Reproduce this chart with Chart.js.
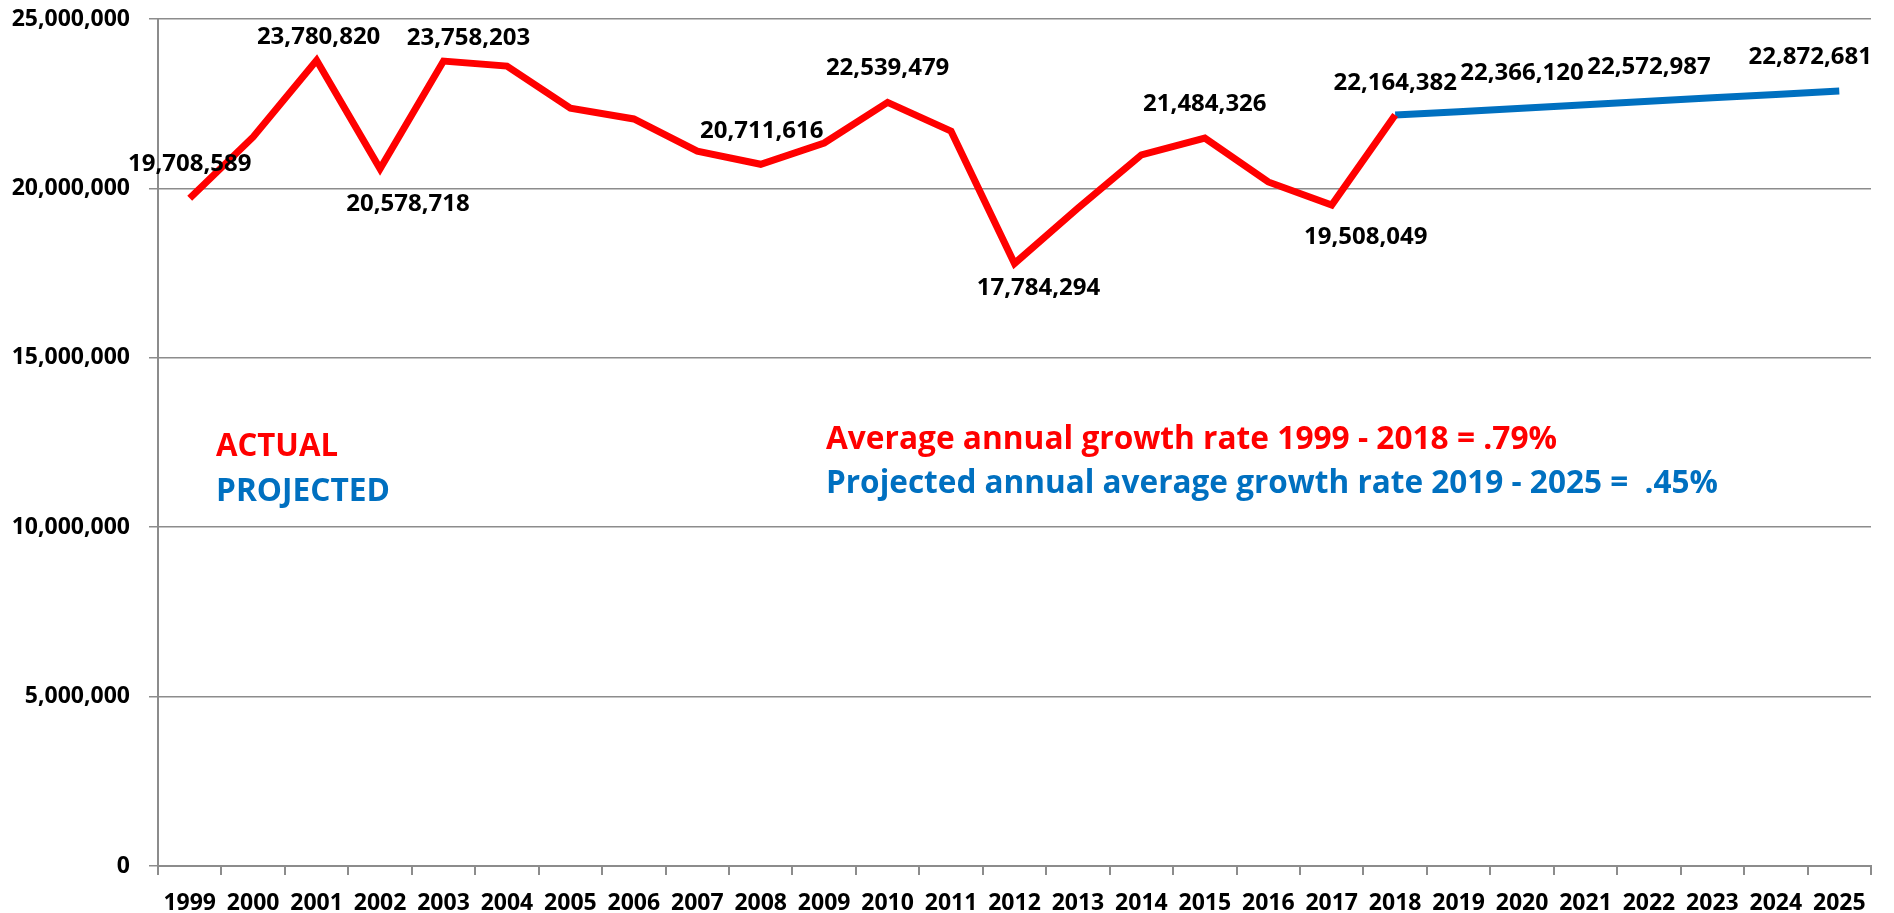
<!DOCTYPE html>
<html>
<head>
<meta charset="utf-8">
<script src="https://cdn.jsdelivr.net/npm/chart.js@4"></script>
<style>
  html, body { margin: 0; padding: 0; background: #fff; }
  #wrap { width: 1894px; height: 913px; }
</style>
</head>
<body>
<div id="wrap"><canvas id="growthChart"></canvas></div>
<script>
// Years on the x axis
const years = ['1999','2000','2001','2002','2003','2004','2005','2006','2007','2008','2009',
               '2010','2011','2012','2013','2014','2015','2016','2017','2018','2019','2020',
               '2021','2022','2023','2024','2025'];

// Actual values 1999 - 2018
const actualValues = [19708589, 21520000, 23780820, 20578718, 23758203, 23610000, 22370000,
                      22050000, 21100000, 20711616, 21340000, 22539479, 21690000, 17784294,
                      19420000, 20990000, 21484326, 20190000, 19508049, 22164382,
                      null, null, null, null, null, null, null];

// Projected values 2018 - 2025
const projectedValues = [null, null, null, null, null, null, null, null, null, null,
                         null, null, null, null, null, null, null, null, null,
                         22164382, 22264000, 22366120, 22467000, 22572987, 22674000, 22774000, 22872681];

// y axis ticks
const yTicks = [0, 5000000, 10000000, 15000000, 20000000, 25000000];

// which points carry a value label: [dataset, index]
const labelled = [[0,0],[0,2],[0,3],[0,4],[0,9],[0,11],[0,13],[0,16],[0,18],[0,19],[1,21],[1,23],[1,26]];

const RED = '#FF0000';
const BLUE = '#0070C0';
const GRID = '#8C8C8C';
const FONT = "'Open Sans', sans-serif";

function fmt(v) {
    return v.toLocaleString('en-US');
}

// label nudges (px) relative to the point, like moved Excel labels
const labelShift = {
    '0-0': [0, -34], '0-2': [2, -23], '0-3': [28, 35], '0-4': [25, -23],
    '0-9': [1, -33], '0-11': [0, -34], '0-13': [24, 25], '0-16': [0, -34],
    '0-18': [34, 32], '0-19': [0, -32], '1-21': [0, -35], '1-23': [0, -34], '1-26': [-29, -34]
};

const valueLabels = {
    id: 'valueLabels',
    afterDatasetsDraw(chart) {
        const ctx = chart.ctx;
        ctx.save();
        ctx.font = 'bold 24px ' + FONT;
        ctx.fillStyle = '#000';
        ctx.textAlign = 'center';
        ctx.textBaseline = 'middle';
        labelled.forEach(([ds, i]) => {
            const pt = chart.getDatasetMeta(ds).data[i];
            const v = chart.data.datasets[ds].data[i];
            const s = labelShift[ds + '-' + i] || [0, -25];
            ctx.fillText(fmt(v), pt.x + s[0], pt.y + s[1]);
        });
        ctx.restore();
    }
};

// draw text squeezed/stretched to a given width (Calibri-ish proportions)
function fitText(ctx, text, x, y, w) {
    const m = ctx.measureText(text).width;
    ctx.save();
    ctx.translate(x, y);
    ctx.scale(w / m, 1);
    ctx.fillText(text, 0, 0);
    ctx.restore();
}

const notes = {
    id: 'notes',
    afterDraw(chart) {
        const ctx = chart.ctx;
        ctx.save();
        ctx.textAlign = 'left';
        ctx.textBaseline = 'middle';
        ctx.font = 'bold 32px ' + FONT;
        ctx.fillStyle = RED;
        fitText(ctx, 'ACTUAL', 216, 447, 122);
        fitText(ctx, 'Average annual growth rate 1999 - 2018 = .79%', 826, 440, 731);
        ctx.fillStyle = BLUE;
        fitText(ctx, 'PROJECTED', 216, 492, 174);
        fitText(ctx, 'Projected annual average growth rate 2019 - 2025 =  .45%', 826, 484, 892);
        ctx.restore();
    }
};

new Chart(document.getElementById('growthChart'), {
    type: 'line',
    data: {
        labels: years,
        datasets: [
            { label: 'Actual', data: actualValues, borderColor: RED, borderWidth: 7,
              pointRadius: 0, tension: 0, spanGaps: false },
            { label: 'Projected', data: projectedValues, borderColor: BLUE, borderWidth: 7,
              pointRadius: 0, tension: 0, spanGaps: false }
        ]
    },
    options: {
        responsive: true,
        maintainAspectRatio: false,
        animation: false,
        layout: { padding: { top: 19, right: 23, left: 0, bottom: 0 } },
        plugins: { legend: { display: false }, tooltip: { enabled: false } },
        scales: {
            x: {
                offset: true,
                grid: { drawOnChartArea: false, offset: true, tickLength: 9, color: GRID, lineWidth: 2 },
                border: { color: GRID, width: 2 },
                ticks: { color: '#000', font: { family: FONT, weight: 'bold', size: 23 }, maxRotation: 0, autoSkip: false, padding: 15 },
                afterFit(axis) { axis.height = 47; }
            },
            y: {
                min: 0, max: 25000000,
                afterBuildTicks(axis) { axis.ticks = yTicks.map(v => ({ value: v })); },
                grid: { color: GRID, lineWidth: 1.5, tickLength: 9 },
                border: { color: GRID, width: 2 },
                ticks: { color: '#000', font: { family: FONT, weight: 'bold', size: 23 }, padding: 19,
                         callback: v => fmt(v) },
                // tick padding would otherwise push the plot top down
                afterFit(axis) { axis.width = 158; axis.paddingTop = 0; axis.paddingBottom = 0; }
            }
        }
    },
    plugins: [valueLabels, notes]
});
</script>
</body>
</html>
